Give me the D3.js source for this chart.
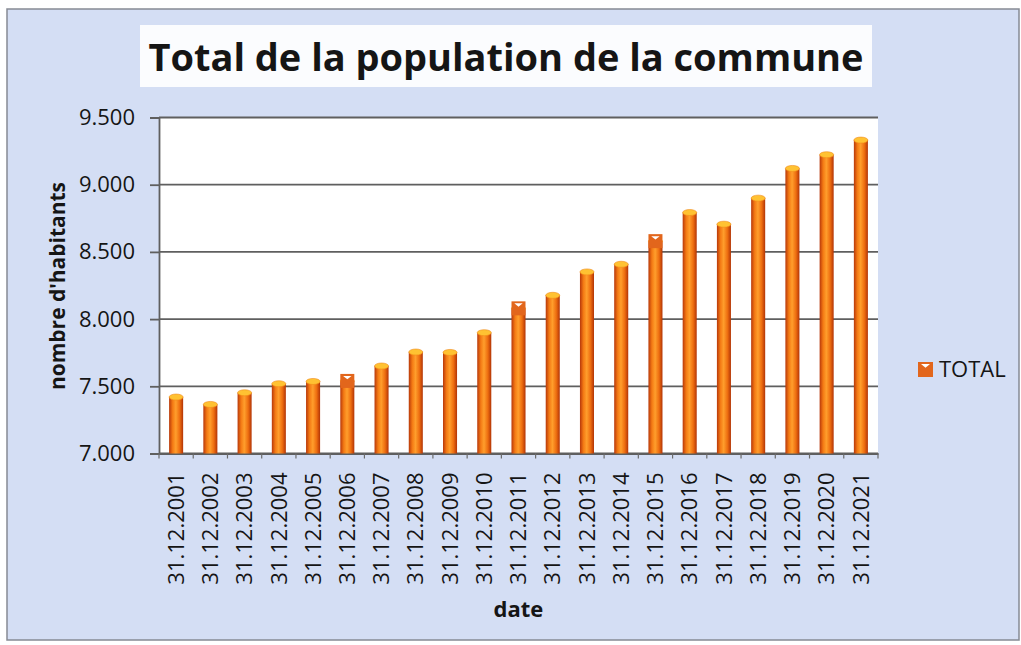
<!DOCTYPE html>
<html>
<head>
<meta charset="utf-8">
<script src="https://cdn.jsdelivr.net/npm/d3@7"></script>
<style>
  html, body { margin: 0; padding: 0; background: #ffffff; }
  #chart { width: 1021px; height: 645px; }
  text { font-family: "Open Sans", "Noto Sans", sans-serif; fill: #151515; }
</style>
</head>
<body>
<div id="chart"></div>
<script>
/* Population totals per year-end, cylinder-style bars. */

var dates = ["31.12.2001", "31.12.2002", "31.12.2003", "31.12.2004", "31.12.2005",
  "31.12.2006", "31.12.2007", "31.12.2008", "31.12.2009", "31.12.2010", "31.12.2011",
  "31.12.2012", "31.12.2013", "31.12.2014", "31.12.2015", "31.12.2016", "31.12.2017",
  "31.12.2018", "31.12.2019", "31.12.2020", "31.12.2021"];
var totals = [7420, 7365, 7452, 7519, 7536, 7540, 7651, 7755, 7752, 7899, 8080,
  8177, 8351, 8408, 8580, 8793, 8706, 8900, 9121, 9223, 9332];
var yTicks = [7000, 7500, 8000, 8500, 9000, 9500];
var markedDates = ["31.12.2006", "31.12.2011", "31.12.2015"];
var seriesName = "TOTAL";

function render(el) {
  var d3 = window.d3;
  var width = 1021, height = 645;
  var plot = { left: 159, right: 878, top: 117.5, bottom: 453.5 };

  var svg = d3.select(el).append("svg")
    .attr("width", width).attr("height", height)
    .attr("viewBox", "0 0 " + width + " " + height);

  var defs = svg.append("defs");
  var grad = defs.append("linearGradient").attr("id", "cyl")
    .attr("x1", "0%").attr("x2", "100%").attr("y1", "0%").attr("y2", "0%");
  grad.append("stop").attr("offset", "0%").attr("stop-color", "#b8380a");
  grad.append("stop").attr("offset", "25%").attr("stop-color", "#f47a14");
  grad.append("stop").attr("offset", "48%").attr("stop-color", "#ff9e2c");
  grad.append("stop").attr("offset", "75%").attr("stop-color", "#ee6e10");
  grad.append("stop").attr("offset", "100%").attr("stop-color", "#b23406");

  /* chart background + frame */
  svg.append("rect").attr("x", 7).attr("y", 9).attr("width", 1012).attr("height", 631)
    .attr("fill", "#d4def4").attr("stroke", "#868a94").attr("stroke-width", 1.5);

  /* title */
  svg.append("rect").attr("x", 140).attr("y", 25).attr("width", 732).attr("height", 62)
    .attr("fill", "#fbfcfe");
  svg.append("text").attr("x", 506).attr("y", 71).attr("text-anchor", "middle")
    .attr("font-size", 38).attr("font-weight", 700)
    .attr("textLength", 715).attr("lengthAdjust", "spacingAndGlyphs")
    .text("Total de la population de la commune");

  /* plot area */
  svg.append("rect").attr("x", plot.left).attr("y", plot.top)
    .attr("width", plot.right - plot.left).attr("height", plot.bottom - plot.top)
    .attr("fill", "#ffffff");

  var x = d3.scaleBand().domain(dates).range([plot.left, plot.right]).padding(0);
  var y = d3.scaleLinear().domain([7000, 9500]).range([plot.bottom, plot.top]);
  var fmt = d3.formatLocale({ decimal: ",", thousands: ".", grouping: [3], currency: ["", ""] }).format(",");

  /* gridlines */
  svg.append("g").selectAll("line").data(yTicks).enter().append("line")
    .attr("x1", plot.left).attr("x2", plot.right)
    .attr("y1", function (v) { return y(v); }).attr("y2", function (v) { return y(v); })
    .attr("stroke", "#5f5f5f").attr("stroke-width", 1.8);

  /* y axis */
  var yAxis = svg.append("g").attr("transform", "translate(" + plot.left + ",0)")
    .call(d3.axisLeft(y).tickValues(yTicks).tickSize(9).tickPadding(15).tickFormat(fmt));
  yAxis.select(".domain").attr("stroke", "#5f5f5f").attr("stroke-width", 1.8);
  yAxis.selectAll(".tick line").attr("stroke", "#5f5f5f").attr("stroke-width", 1.8);
  yAxis.selectAll(".tick text").attr("font-size", 22).attr("fill", "#151515")
    .attr("font-family", "'Open Sans', sans-serif");

  /* x axis: labels at band centres, ticks between categories */
  var xAxis = svg.append("g").attr("transform", "translate(0," + plot.bottom + ")")
    .call(d3.axisBottom(x).tickSize(0).tickPadding(0));
  xAxis.select(".domain").attr("stroke", "#5f5f5f").attr("stroke-width", 1.8);
  xAxis.selectAll(".tick text")
    .attr("font-size", 22).attr("fill", "#151515").attr("font-family", "'Open Sans', sans-serif")
    .attr("text-anchor", "end").attr("dy", "0.35em")
    .attr("transform", "translate(0,19) rotate(-90)")
    .attr("x", 0).attr("y", 0);
  var bounds = dates.map(function (d) { return x(d); }).concat([plot.right]);
  xAxis.append("g").selectAll("line").data(bounds).enter().append("line")
    .attr("x1", function (b) { return b; }).attr("x2", function (b) { return b; })
    .attr("y1", 0).attr("y2", 5)
    .attr("stroke", "#6c6c6c").attr("stroke-width", 1.2);

  /* bars */
  var bw = x.bandwidth() * 0.41;
  var bars = svg.append("g");
  dates.forEach(function (d, i) {
    var cx = x(d) + x.bandwidth() / 2;
    var top = y(totals[i]);
    bars.append("rect")
      .attr("x", cx - bw / 2).attr("y", top)
      .attr("width", bw).attr("height", plot.bottom - top)
      .attr("fill", "url(#cyl)");
    bars.append("ellipse")
      .attr("cx", cx).attr("cy", top).attr("rx", bw / 2).attr("ry", 3)
      .attr("fill", "#ffc232").attr("stroke", "#f08a18").attr("stroke-width", 0.6);
  });

  /* legend-key markers sitting on some bars */
  function keyMarker(g, cx, cy, s) {
    g.append("rect").attr("x", cx - s / 2).attr("y", cy - s / 2)
      .attr("width", s).attr("height", s).attr("fill", "#e2661c");
    g.append("path")
      .attr("d", "M" + (cx - s * 0.3) + "," + (cy - s / 2 + 2) +
        "L" + (cx + s * 0.3) + "," + (cy - s / 2 + 2) +
        "L" + cx + "," + (cy - s / 2 + s * 0.38) + "Z")
      .attr("fill", "#ffffff");
  }
  var marks = svg.append("g");
  markedDates.forEach(function (d) {
    var i = dates.indexOf(d);
    keyMarker(marks, x(d) + x.bandwidth() / 2, y(totals[i]), 14);
  });

  /* axis titles */
  svg.append("text").attr("transform", "translate(65,286) rotate(-90)")
    .attr("text-anchor", "middle").attr("font-size", 22).attr("font-weight", 700)
    .attr("textLength", 208).attr("lengthAdjust", "spacingAndGlyphs")
    .text("nombre d'habitants");
  svg.append("text").attr("x", (plot.left + plot.right) / 2).attr("y", 617)
    .attr("text-anchor", "middle").attr("font-size", 22).attr("font-weight", 700)
    .text("date");

  /* legend */
  var lg = svg.append("g");
  keyMarker(lg, 925.5, 369.5, 15);
  lg.append("text").attr("x", 939).attr("y", 377).attr("font-size", 22).text(seriesName);
}

render(document.getElementById("chart"));
</script>
</body>
</html>
